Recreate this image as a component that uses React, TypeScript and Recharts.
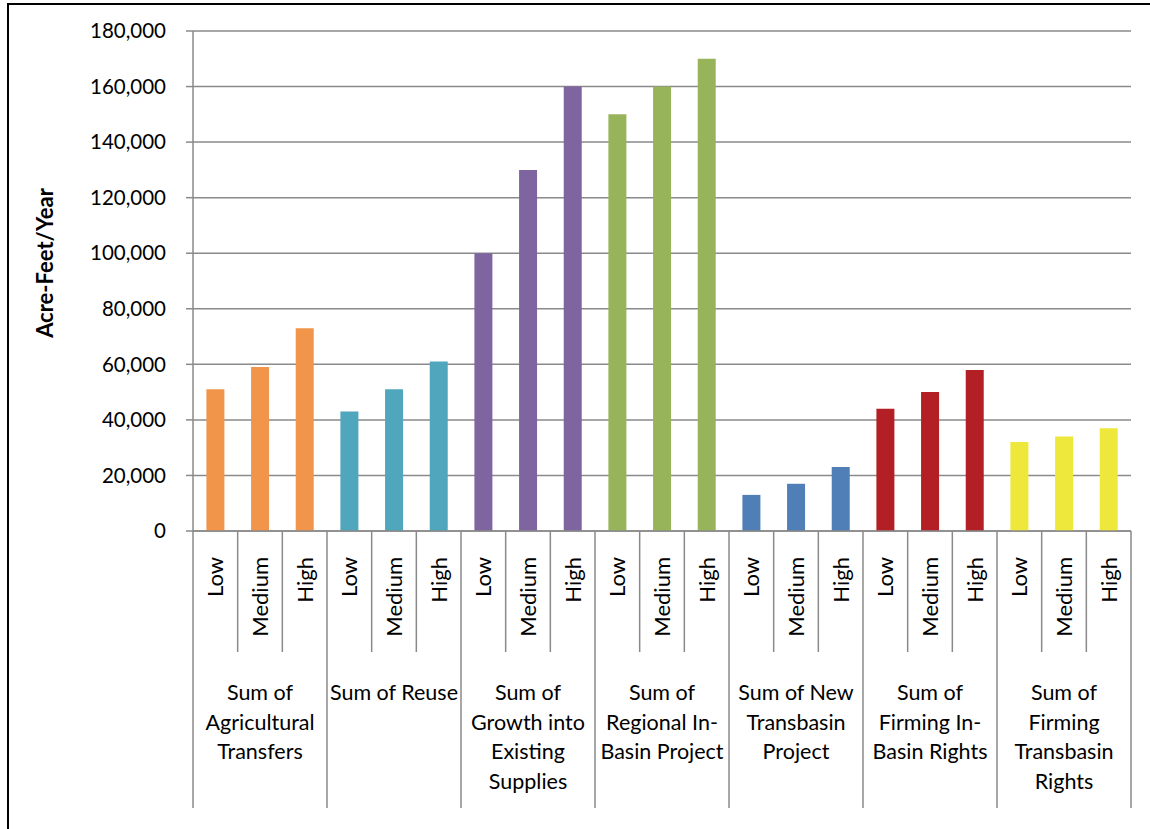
import React from 'react';
import { BarChart, Bar, Cell, XAxis, YAxis, CartesianGrid } from 'recharts';

const groups = [
  'Sum of Agricultural Transfers',
  'Sum of Reuse',
  'Sum of Growth into Existing Supplies',
  'Sum of Regional In-Basin Project',
  'Sum of New Transbasin Project',
  'Sum of Firming In-Basin Rights',
  'Sum of Firming Transbasin Rights',
];

// wrapped the way the original chart wraps them
const groupLines = [
  ['Sum of', 'Agricultural', 'Transfers'],
  ['Sum of Reuse'],
  ['Sum of', 'Growth into', 'Existing', 'Supplies'],
  ['Sum of', 'Regional In-', 'Basin Project'],
  ['Sum of New', 'Transbasin', 'Project'],
  ['Sum of', 'Firming In-', 'Basin Rights'],
  ['Sum of', 'Firming', 'Transbasin', 'Rights'],
];

const levels = ['Low', 'Medium', 'High'];

const agricultural = [51000, 59000, 73000];
const reuse = [43000, 51000, 61000];
const growth = [100000, 130000, 160000];
const regional = [150000, 160000, 170000];
const newTransbasin = [13000, 17000, 23000];
const firmingInBasin = [44000, 50000, 58000];
const firmingTransbasin = [32000, 34000, 37000];

const yTicks = [0, 20000, 40000, 60000, 80000, 100000, 120000, 140000, 160000, 180000];

const colors = ['#F0954A', '#4FA6BD', '#7F65A0', '#98B45B', '#4F7FB6', '#B21F25', '#EEE83C'];

const series = [agricultural, reuse, growth, regional, newTransbasin, firmingInBasin, firmingTransbasin];

const data = series.flatMap((vals, g) =>
  vals.map((v, i) => ({ key: `${g}-${i}`, level: levels[i], group: g, name: groups[g], value: v }))
);

const W = 1150;
const H = 829;
const LEFT = 193;
const RIGHT = 19;
const TOP = 31;
const BOTTOM = 298;
const PLOT_BOTTOM = H - BOTTOM;
const BAND = (W - LEFT - RIGHT) / data.length;
const FONT = 'Lato, "Open Sans", sans-serif';
const GRID = '#8a8a8a';

const XTick = (props: any) => {
  const { x, payload } = props;
  const idx = payload.index;
  const d = data[idx];
  const left = x - BAND / 2;
  const out: React.ReactNode[] = [];
  const first = idx % 3 === 0;
  out.push(
    <line key="l" x1={left} x2={left} y1={PLOT_BOTTOM} y2={first ? 808 : 652} stroke={GRID} strokeWidth={1.5} />
  );
  if (idx === data.length - 1) {
    out.push(
      <line key="r" x1={x + BAND / 2} x2={x + BAND / 2} y1={PLOT_BOTTOM} y2={808} stroke={GRID} strokeWidth={1.5} />
    );
  }
  out.push(
    <text
      key="t"
      x={x}
      y={557}
      transform={`rotate(-90 ${x} 557)`}
      textAnchor="end"
      dy="0.36em"
      fontSize={22}
      fill="#000"
      fontFamily={FONT}
    >
      {d.level}
    </text>
  );
  if (idx % 3 === 1) {
    groupLines[d.group].forEach((ln, k) => {
      out.push(
        <text
          key={`g${k}`}
          x={x}
          y={700 + k * 29.5}
          textAnchor="middle"
          fontSize={21.5}
          fill="#000"
          fontFamily={FONT}
        >
          {ln}
        </text>
      );
    });
  }
  return <g>{out}</g>;
};

const YLabel = () => (
  <text
    x={45}
    y={263}
    transform="rotate(-90 45 263)"
    textAnchor="middle"
    dy="0.36em"
    fontSize={22}
    fontWeight="bold"
    fill="#000"
    fontFamily={FONT}
  >
    Acre-Feet/Year
  </text>
);

export default function App() {
  return (
    <div style={{ position: 'absolute', left: 0, top: 0, width: W, height: H, background: '#fff' }}>
      <div
        style={{
          position: 'absolute',
          left: 7,
          top: 3,
          right: 0,
          bottom: 0,
          borderLeft: '2px solid #000',
          borderTop: '2px solid #000',
        }}
      />
      <BarChart
        width={W}
        height={H}
        data={data}
        margin={{ top: TOP, right: RIGHT, left: 0, bottom: 8 }}
        barCategoryGap="30%"
        style={{ position: 'absolute', left: 0, top: 0 }}
      >
        <CartesianGrid vertical={false} stroke={GRID} strokeWidth={1.5} />
        <XAxis
          dataKey="key"
          height={BOTTOM - 8}
          interval={0}
          tickLine={false}
          axisLine={{ stroke: GRID, strokeWidth: 1.5 }}
          tick={<XTick />}
        />
        <YAxis
          width={LEFT}
          domain={[0, 180000]}
          ticks={yTicks}
          interval={0}
          tickSize={7}
          tickMargin={20}
          axisLine={{ stroke: GRID, strokeWidth: 1.5 }}
          tickLine={{ stroke: GRID, strokeWidth: 1.5 }}
          tick={{ fill: '#000', fontSize: 20.5, fontFamily: FONT }}
          tickFormatter={(v: number) => v.toLocaleString('en-US')}
          label={<YLabel />}
        />
        <Bar dataKey="value" isAnimationActive={false}>
          {data.map((d) => (
            <Cell key={d.key} fill={colors[d.group]} />
          ))}
        </Bar>
      </BarChart>
    </div>
  );
}
